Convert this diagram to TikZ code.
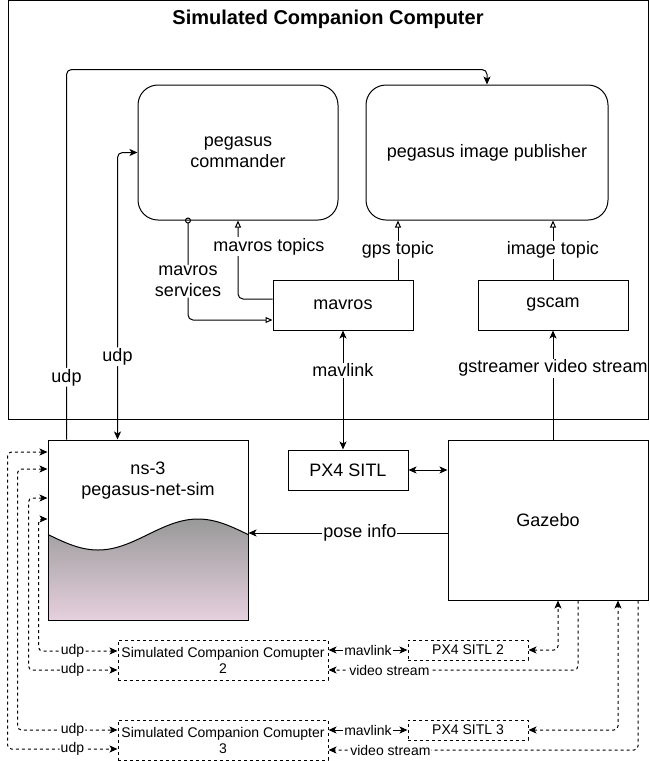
\documentclass[tikz,border=0pt]{standalone}
\usepackage{fontspec}
\setmainfont{Liberation Sans}
\usetikzlibrary{arrows.meta}

\definecolor{wavetop}{RGB}{153,153,153}
\definecolor{wavebot}{RGB}{230,208,222}

\tikzset{
  blk/.style={draw, inner sep=0pt, align=center, font=\fontsize{18}{21}\selectfont},
  dblk/.style={blk, dash pattern=on 3pt off 3pt, font=\fontsize{14}{16}\selectfont},
  lbl/.style={fill=white, inner sep=1pt, align=center, font=\fontsize{18}{21}\selectfont},
  slbl/.style={lbl, font=\fontsize{14}{16}\selectfont},
  wire/.style={rounded corners=5pt},
  dwire/.style={rounded corners=4pt, dash pattern=on 3pt off 3pt},
  opentip/.style={-{Triangle[open,length=7pt,width=6pt]}}
}

\begin{document}
\begin{tikzpicture}[x=1pt, y=-1pt, line width=1pt, >={Stealth[length=8pt,width=7pt,inset=2pt]}]
\useasboundingbox (0,0) rectangle (649,761);

\node[draw, minimum width=640pt, minimum height=419pt] (scc) at (328,210) {};
\node[font=\bfseries\fontsize{20}{24}\selectfont] (title) at (328,19) {Simulated Companion Computer};

\node[blk, minimum width=200pt, minimum height=135pt, rounded corners=20pt] (cmd) at (238,152.5) {pegasus\\commander};
\node[blk, minimum width=242pt, minimum height=135pt, rounded corners=20pt] (pub) at (487,152.5) {pegasus image publisher};
\node[blk, minimum width=140pt, minimum height=50pt] (mavros) at (343,305) {mavros};
\node[blk, minimum width=150pt, minimum height=50pt] (gscam) at (553,305) {gscam};
\node[blk, minimum width=120pt, minimum height=40pt] (px4) at (348,470) {PX4 SITL};
\node[blk, minimum width=200pt, minimum height=160pt] (gaz) at (548,520) {Gazebo};

\shade[top color=wavetop, bottom color=wavebot] (48,534.5) sin (98,550) cos (148,534.5) sin (198,519) cos (248,534.5) -- (248,620) -- (48,620) -- cycle;
\draw (48,534.5) sin (98,550) cos (148,534.5) sin (198,519) cos (248,534.5);
\node[draw, minimum width=200pt, minimum height=180pt] (ns3) at (148,530) {};
\node[align=center, font=\fontsize{18}{21}\selectfont] (ns3txt) at (148,481) {ns-3\\pegasus-net-sim};

\node[dblk, minimum width=210pt, minimum height=40pt] (scc2) at (223,660) {Simulated Companion Comupter\\2};
\node[dblk, minimum width=210pt, minimum height=40pt] (scc3) at (223,740) {Simulated Companion Comupter\\3};
\node[dblk, minimum width=120pt, minimum height=20pt] (sitl2) at (468,650) {PX4 SITL 2};
\node[dblk, minimum width=120pt, minimum height=20pt] (sitl3) at (468,730) {PX4 SITL 3};

\draw[wire, ->] ([xshift=19pt]ns3.north west) |- ([yshift=15pt]pub.north) node[lbl, pos=0.084]{udp} -- (pub.north);
\draw[wire, <->] (cmd.west) -| ([xshift=70pt]ns3.north west) node[lbl, pos=0.856]{udp};
\draw[wire, opentip] ([yshift=6pt]mavros.west) -| (cmd.south) node[lbl, pos=0.835, xshift=31pt]{mavros topics};
\draw[wire, {Circle[open,length=6pt]}-{Triangle[open,length=7pt,width=6pt]}, shorten <=-3pt] ([xshift=-50pt]cmd.south) |- ([yshift=-15pt]mavros.west) node[lbl, pos=0.305]{mavros\\services};
\draw[opentip] ([xshift=55pt]mavros.north) -- ([xshift=-89pt]pub.south) node[lbl, midway]{gps topic};
\draw[opentip] (gscam.north) -- ([xshift=66pt]pub.south) node[lbl, midway]{image topic};
\draw[<->] (mavros.south) -- (mavros.south |- px4.north) node[lbl, pos=0.333]{mavlink};
\draw[->] (gscam.south |- gaz.north) -- (gscam.south) node[lbl, inner xsep=0pt, pos=0.655]{gstreamer video stream};
\draw[<->] (px4.east) -- (px4.east -| gaz.west);
\draw[->] ([yshift=-13pt]gaz.west) -- ([yshift=-3pt]ns3.east) node[lbl, pos=0.44]{pose info};

\draw[dwire, <->] ([yshift=11pt]ns3.west) -- ++(-9,0) |- ([yshift=9pt]scc2.west) node[slbl, pos=0.715]{udp};
\draw[dwire, <->] ([yshift=32pt]ns3.west) -- ++(-19,0) |- ([yshift=-10pt]scc2.west) node[slbl, pos=0.747]{udp};
\draw[dwire, <->] ([yshift=61pt]ns3.west) -- ++(-30,0) |- ([yshift=10pt]scc3.west) node[slbl, pos=0.775]{udp};
\draw[dwire, <->] ([yshift=78pt]ns3.west) -- ++(-40,0) |- ([yshift=-9pt]scc3.west) node[slbl, pos=0.795]{udp};

\draw[<->] ([yshift=10pt]scc2.east) -- (sitl2.west) node[slbl, midway]{mavlink};
\draw[dwire, <->] (sitl2.east) -| ([xshift=10pt]gaz.south);
\draw[dwire, ->] ([xshift=30pt]gaz.south) |- ([yshift=-10pt]scc2.east) node[slbl, pos=0.878]{video stream};
\draw[<->] ([yshift=10pt]scc3.east) -- (sitl3.west) node[slbl, midway]{mavlink};
\draw[dwire, <->] (sitl3.east) -| ([xshift=70pt]gaz.south);
\draw[dwire, ->] ([xshift=90pt]gaz.south) |- ([yshift=-10pt]scc3.east) node[slbl, pos=0.90]{video stream};
\end{tikzpicture}
\end{document}
